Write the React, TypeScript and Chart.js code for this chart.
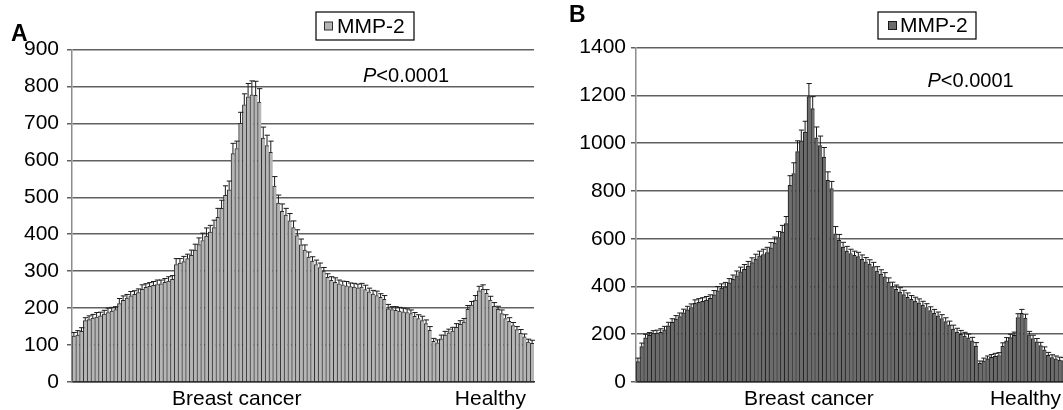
import { useEffect, useRef } from "react";
import { Chart, registerables } from "chart.js";
Chart.register(...registerables);

const FONT = '"Liberation Sans", Arial, Helvetica, sans-serif';

// Panel A – MMP-2, one bar per serum sample
const mmp2A = [
  124, 127, 137, 166, 169, 173, 176, 179, 184, 188, 192, 196,
  212, 221, 227, 233, 237, 242, 251, 256, 259, 262, 264, 266, 270, 273, 278,
  318, 322, 326, 334, 343, 357, 372, 383, 395, 406, 418, 446, 470, 505, 520,
  618, 632, 700, 750, 772, 777, 776, 758, 660, 640, 622, 530,
  484, 462, 452, 436, 418, 396, 371, 357, 338, 327, 318, 310, 300, 283, 275, 270, 266, 263, 260, 258, 257, 255,
  257, 250, 244, 238, 234, 229, 224, 198, 196, 194, 192, 190, 188, 185, 178, 172, 166, 158, 140,
  110, 106, 117, 127, 133, 138, 148, 156, 162, 197, 208, 222, 247, 251, 240, 222, 205, 197, 185, 172, 164, 153, 142, 132, 122, 108, 105,
];
const errA = [
  10, 12, 10, 8, 10, 10, 12, 10, 10, 12, 10, 8,
  14, 12, 10, 12, 10, 10, 12, 10, 10, 10, 12, 10, 10, 12, 10,
  16, 12, 14, 12, 14, 16, 18, 20, 22, 18, 20, 24, 22, 26, 24,
  28, 20, 30, 30, 36, 38, 38, 36, 30, 28, 30, 26,
  22, 20, 18, 20, 18, 16, 16, 14, 14, 12, 12, 12, 10, 10, 10, 12, 10, 10, 12, 10, 10, 10,
  10, 12, 10, 10, 12, 10, 10, 12, 8, 10, 10, 10, 10, 10, 10, 10, 12, 10, 10,
  8, 8, 10, 10, 10, 10, 10, 10, 10, 10, 10, 12, 12, 12, 10, 10, 10, 8, 10, 10, 10, 8, 8, 10, 8, 8, 8,
];

// Panel B
const mmp2B = [
  85, 148, 185, 195, 203, 205, 208, 218, 235, 250, 263, 274, 290, 302, 312, 329, 334, 338, 343, 350,
  365, 382, 393, 399, 415, 430, 445, 461, 472, 485, 500, 515, 528, 534, 542, 562, 582, 605, 628, 663,
  824, 873, 965, 1010, 1047, 1195, 1145, 1023, 990, 942, 845, 810, 621, 593,
  565, 548, 538, 530, 525, 514, 503, 494, 483, 465, 452, 440, 418, 400, 388, 377, 366, 355,
  346, 339, 332, 322, 312, 299, 288, 277, 266, 253, 239, 222, 209, 200, 192, 185, 172, 150,
  78, 88, 97, 103, 108, 111, 150, 172, 186, 195, 270, 288, 268, 198, 182, 168, 152, 135, 112, 102, 97, 92, 90,
];
const errB = [
  15, 15, 15, 12, 12, 12, 15, 15, 15, 15, 15, 15, 15, 15, 15, 15, 15, 15, 15, 15,
  18, 18, 18, 18, 18, 18, 20, 20, 20, 20, 20, 20, 20, 22, 22, 22, 25, 25, 28, 30,
  40, 45, 45, 45, 45, 55, 50, 45, 40, 40, 35, 30, 30, 25,
  20, 20, 18, 18, 18, 18, 18, 18, 18, 18, 18, 18, 18, 18, 18, 18, 18, 18,
  16, 16, 16, 16, 16, 16, 16, 16, 16, 16, 16, 16, 16, 16, 16, 16, 15, 15,
  10, 12, 12, 12, 12, 12, 14, 14, 14, 14, 16, 16, 16, 14, 14, 14, 14, 12, 12, 12, 12, 12, 12,
];

const seriesName = "MMP-2";
const pValue = "<0.0001";
const groupNames = ["Breast cancer", "Healthy"];
const groupTickA = [43, 110];
const groupTickB = [45, 102];

const makeLabels = (n: number, at: number[]) =>
  Array.from({ length: n }, (_, i) => {
    const k = at.indexOf(i);
    return k >= 0 ? groupNames[k] : "";
  });

type PanelProps = {
  values: number[];
  errors: number[];
  labels: string[];
  yMax: number;
  step: number;
  fill: string;
  edge: string;
  left: number;
  width: number;
  axisWidth: number;
  padRight: number;
  padTop: number;
  tickPad: number;
  letter: string;
  letterX: number;
  letterY: number;
  leg: [number, number, number, number];
  markX: number;
  textX: number;
  pX: number;
  pY: number;
};

const Panel = (p: PanelProps) => {
  const ref = useRef<HTMLCanvasElement>(null);

  useEffect(() => {
    if (!ref.current) return;

    const errorBars = {
      id: "errorBars",
      afterDatasetsDraw(chart: Chart) {
        const meta = chart.getDatasetMeta(0);
        const y = chart.scales.y;
        const ctx = chart.ctx;
        ctx.save();
        ctx.strokeStyle = "#1a1a1a";
        ctx.lineWidth = 1;
        meta.data.forEach((bar: any, i: number) => {
          const top = y.getPixelForValue(p.values[i] + p.errors[i]);
          const half = bar.width / 2;
          ctx.beginPath();
          ctx.moveTo(bar.x, bar.y);
          ctx.lineTo(bar.x, top);
          ctx.moveTo(bar.x - half - 0.5, top);
          ctx.lineTo(bar.x + half + 1, top);
          ctx.stroke();
        });
        ctx.restore();
      },
    };

    const panelText = {
      id: "panelText",
      afterDraw(chart: Chart) {
        const ctx = chart.ctx;
        ctx.save();
        ctx.fillStyle = "#000";
        ctx.textBaseline = "alphabetic";
        ctx.font = `bold 23px ${FONT}`;
        ctx.fillText(p.letter, p.letterX, p.letterY);

        const [lx, ly, lw, lh] = p.leg;
        ctx.strokeStyle = "#000";
        ctx.lineWidth = 1.2;
        ctx.strokeRect(lx, ly, lw, lh);
        ctx.fillStyle = p.fill;
        ctx.fillRect(p.markX, ly + lh / 2 - 4, 8, 8);
        ctx.strokeStyle = p.edge;
        ctx.lineWidth = 1;
        ctx.strokeRect(p.markX, ly + lh / 2 - 4, 8, 8);
        ctx.fillStyle = "#000";
        ctx.font = `21px ${FONT}`;
        ctx.textBaseline = "middle";
        ctx.fillText(seriesName, p.textX, ly + lh / 2 + 1);

        ctx.textBaseline = "alphabetic";
        ctx.font = `italic 20px ${FONT}`;
        ctx.fillText("P", p.pX, p.pY);
        const w = ctx.measureText("P").width;
        ctx.font = `20px ${FONT}`;
        ctx.fillText(pValue, p.pX + w, p.pY);
        ctx.restore();
      },
    };

    const chart = new Chart(ref.current, {
      type: "bar",
      data: {
        labels: p.labels,
        datasets: [
          {
            label: seriesName,
            data: p.values,
            backgroundColor: p.fill,
            borderColor: p.edge,
            borderWidth: { left: 1, top: 1, right: 0, bottom: 0 },
            categoryPercentage: 1,
            barPercentage: 1,
          },
        ],
      },
      options: {
        animation: false,
        responsive: true,
        maintainAspectRatio: false,
        events: [],
        layout: { padding: { left: 0, right: p.padRight, top: p.padTop, bottom: 0 } },
        plugins: { legend: { display: false }, tooltip: { enabled: false } },
        scales: {
          x: {
            grid: { display: false, drawTicks: false },
            border: { display: true, color: "#222", width: 1.5 },
            ticks: {
              autoSkip: false,
              maxRotation: 0,
              minRotation: 0,
              padding: 5,
              color: "#000",
              font: { family: FONT, size: 21 },
            },
            afterFit: (s: any) => {
              s.height = 28;
            },
          },
          y: {
            min: 0,
            max: p.yMax,
            ticks: {
              stepSize: p.step,
              padding: p.tickPad,
              color: "#000",
              font: { family: FONT, size: 21 },
              callback: (v: any) => String(v),
            },
            grid: { color: "#606060", lineWidth: 1.5, tickLength: 5 },
            border: { color: "#8c8c8c", width: 1.5 },
            afterFit: (s: any) => {
              s.width = p.axisWidth;
            },
          },
        },
      },
      plugins: [errorBars, panelText],
    });

    return () => chart.destroy();
  }, [p]);

  return (
    <div style={{ position: "absolute", left: p.left, top: 0, width: p.width, height: 410 }}>
      <canvas ref={ref}></canvas>
    </div>
  );
};

const panelA: PanelProps = {
  values: mmp2A,
  errors: errA,
  labels: makeLabels(mmp2A.length, groupTickA),
  yMax: 900,
  step: 100,
  fill: "#b5b5b5",
  edge: "#303030",
  left: 0,
  width: 540,
  axisWidth: 72,
  padRight: 6,
  padTop: 49.5,
  tickPad: 8,
  letter: "A",
  letterX: 11,
  letterY: 41,
  leg: [316, 12, 98, 28],
  markX: 324.5,
  textX: 337,
  pX: 363,
  pY: 82,
};

const panelB: PanelProps = {
  values: mmp2B,
  errors: errB,
  labels: makeLabels(mmp2B.length, groupTickB),
  yMax: 1400,
  step: 200,
  fill: "#6c6c6c",
  edge: "#1a1a1a",
  left: 530,
  width: 540,
  axisWidth: 106,
  padRight: 4.6,
  padTop: 47.7,
  tickPad: 5,
  letter: "B",
  letterX: 39,
  letterY: 22,
  leg: [348, 12, 98, 27],
  markX: 358.5,
  textX: 370,
  pX: 397.5,
  pY: 87,
};

export default function App() {
  return (
    <div
      style={{
        position: "fixed",
        left: 0,
        top: 0,
        width: 1063,
        height: 410,
        overflow: "hidden",
        background: "#fff",
      }}
    >
      <Panel {...panelA} />
      <Panel {...panelB} />
    </div>
  );
}
